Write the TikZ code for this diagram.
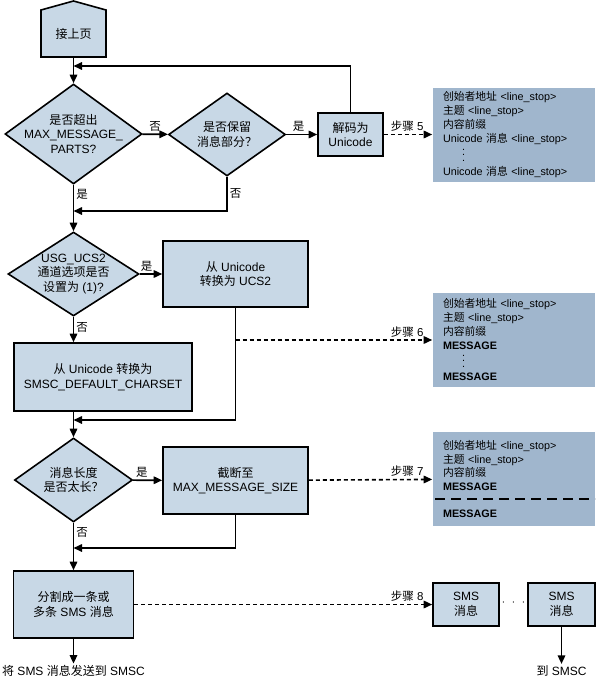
\documentclass[tikz,border=0pt]{standalone}
\usepackage{fontspec}
\setmainfont{Liberation Sans}
\newfontfamily\cjkfont{Noto Sans CJK SC}
\usetikzlibrary{shapes.geometric,arrows.meta}
\definecolor{boxblue}{RGB}{200,216,230}
\definecolor{infoblue}{RGB}{160,182,205}

% Chinese characters are set in the CJK font, the rest in Liberation Sans
\XeTeXinterchartokenstate=1
\newXeTeXintercharclass\hanclass
\count255="4E00
\loop
  \XeTeXcharclass\count255=\hanclass
  \ifnum\count255<"9FFF \advance\count255 by 1 \repeat
\XeTeXcharclass"FF1F=\hanclass
\XeTeXinterchartoks 0 \hanclass = {\begingroup\cjkfont}
\XeTeXinterchartoks 4095 \hanclass = {\begingroup\cjkfont}
\XeTeXinterchartoks \hanclass 0 = {\endgroup}
\XeTeXinterchartoks \hanclass 4095 = {\endgroup}

\newcommand\vdotz{\vbox{\baselineskip5.5pt\lineskiplimit-10pt\hbox{.}\hbox{.}\hbox{.}}}

\begin{document}
\begin{tikzpicture}[x=1pt, y=-1pt,
    line width=1.6pt, >={Triangle[length=8.5pt,width=7.5pt]},
    B/.style={draw, fill=boxblue, align=center, inner sep=0pt, font=\fontsize{12}{14.5}\selectfont},
    D/.style={diamond, draw, fill=boxblue, inner sep=0pt},
    I/.style={fill=infoblue, text width=142pt, inner xsep=10pt, inner ysep=0pt, minimum height=94pt, align=left, font=\fontsize{10.8}{13.8}\selectfont},
    L/.style={font=\fontsize{11.5}{13}\selectfont, inner sep=2pt},
    T/.style={font=\fontsize{12}{14.5}\selectfont, inner sep=1pt},
    every label/.style={align=center, font=\fontsize{12}{14.5}\selectfont},
    dsh/.style={dash pattern=on 4pt off 3pt}
  ]
  \useasboundingbox (0,0) rectangle (597,677);

  % page connector at the top
  \draw[fill=boxblue] (41,57) -- (41,10) -- (73.5,1) -- (106,10) -- (106,57) -- cycle;
  \node[T, minimum width=65, minimum height=47] (start) at (73.5,33.5) {接上页};

  % first row
  \node[D, minimum width=137, minimum height=100,
        label=center:{是否超出\\MAX\_MESSAGE\_\\PARTS?}] (d1) at (73.5,134) {};
  \node[D, minimum width=117, minimum height=83,
        label=center:{是否保留\\消息部分？}] (d2) at (227,134.5) {};
  \node[B, minimum width=65, minimum height=43] (dec) at (350.5,134.5) {解码为\\Unicode};
  \node[I] (i5) at (514,134.5) {创始者地址 <line\_stop>\\主题 <line\_stop>\\内容前缀\\
    Unicode 消息 <line\_stop>\\[4pt]\hspace*{19pt}\vdotz\\Unicode 消息 <line\_stop>};

  % second row
  \node[D, minimum width=131, minimum height=84,
        label=center:{USG\_UCS2\\通道选项是否\\设置为 (1)?}] (d3) at (73.5,274) {};
  \node[B, minimum width=145, minimum height=66] (ucs) at (235.5,274) {从 Unicode\\转换为 UCS2};
  \node[B, minimum width=178, minimum height=68] (dflt) at (103,377) {从 Unicode 转换为\\SMSC\_DEFAULT\_CHARSET};
  \node[I] (i6) at (514,340) {创始者地址 <line\_stop>\\主题 <line\_stop>\\内容前缀\\
    \textbf{MESSAGE}\\[4pt]\hspace*{19pt}\vdotz\\\textbf{MESSAGE}};

  % third row
  \node[D, minimum width=118, minimum height=84,
        label=center:{消息长度\\是否太长？}] (d4) at (73.5,480) {};
  \node[B, minimum width=145, minimum height=67] (trunc) at (235.5,480.5) {截断至\\MAX\_MESSAGE\_SIZE};
  \node[I] (i7) at (514,479) {创始者地址 <line\_stop>\\主题 <line\_stop>\\内容前缀\\
    \textbf{MESSAGE}\\[13pt]\textbf{MESSAGE}};
  \draw[line width=2.2pt, dash pattern=on 10pt off 6pt] (435,499) -- (595,499);

  % last row
  \node[B, minimum width=120, minimum height=67] (split) at (73.5,604.5) {分割成一条或\\多条 SMS 消息};
  \node[B, minimum width=66, minimum height=43] (sms1) at (466,604.5) {SMS\\消息};
  \node[B, minimum width=67, minimum height=43] (sms2) at (561.5,604.5) {SMS\\消息};
  \node[T] (more) at (513.5,603) {$\cdot\hspace{4pt}\cdot\hspace{4pt}\cdot$};
  \node[T] (send) at (73.5,671) {将 SMS 消息发送到 SMSC};
  \node[T] (tosmsc) at (561.5,671) {到 SMSC};

  \coordinate (j1) at (73.5,66);
  \coordinate (j2) at (73.5,211);
  \coordinate (j3) at (73.5,420);
  \coordinate (j4) at (73.5,548);

  % connectors
  \draw[->] (start) -- (d1);
  \draw[->] (d1) -- node[above, L] (n1) {否} (d2);
  \draw[->] (d2) -- node[above, L, pos=0.4] (y1) {是} (dec);
  \draw[->] (dec.north) |- (j1);
  \draw[->] (d2.south) |- node[pos=0.25, right, L] (n2) {否} (j2);
  \draw[->] (d1) -- node[pos=0.2, right, L] (y2) {是} (d3);
  \draw[dsh,->] (dec) -- node[pos=1, above left, L, xshift=-6pt] (s5) {步骤 5} (i5);

  \draw[->] (d3) -- node[above, L, pos=0.3] (y3) {是} (ucs);
  \draw[->] (d3.south) -- node[pos=0.4, right, L] (n3) {否} (d3.south |- dflt.north);
  \draw[->] (ucs.south) |- (j3);
  \draw[dsh,->] (ucs.south |- i6.west) -- node[pos=1, above left, L, xshift=-6pt] (s6) {步骤 6} (i6.west);
  \draw[->] (d3.south |- dflt.south) -- (d4.north);

  \draw[->] (d4) -- node[above, L, pos=0.3] (y4) {是} (trunc);
  \draw[->] (trunc.south) |- (j4);
  \draw[dsh,->] (trunc) -- node[pos=1, above left, L, xshift=-6pt] (s7) {步骤 7} (i7);
  \draw[->] (d4) -- node[pos=0.2, right, L] (n4) {否} (split);

  \draw[dsh,->] (split) -- node[pos=1, above left, L, xshift=-6pt] (s8) {步骤 8} (sms1);
  \draw[->] (split) -- (send);
  \draw[->] (sms2) -- (tosmsc);
\end{tikzpicture}
\end{document}
